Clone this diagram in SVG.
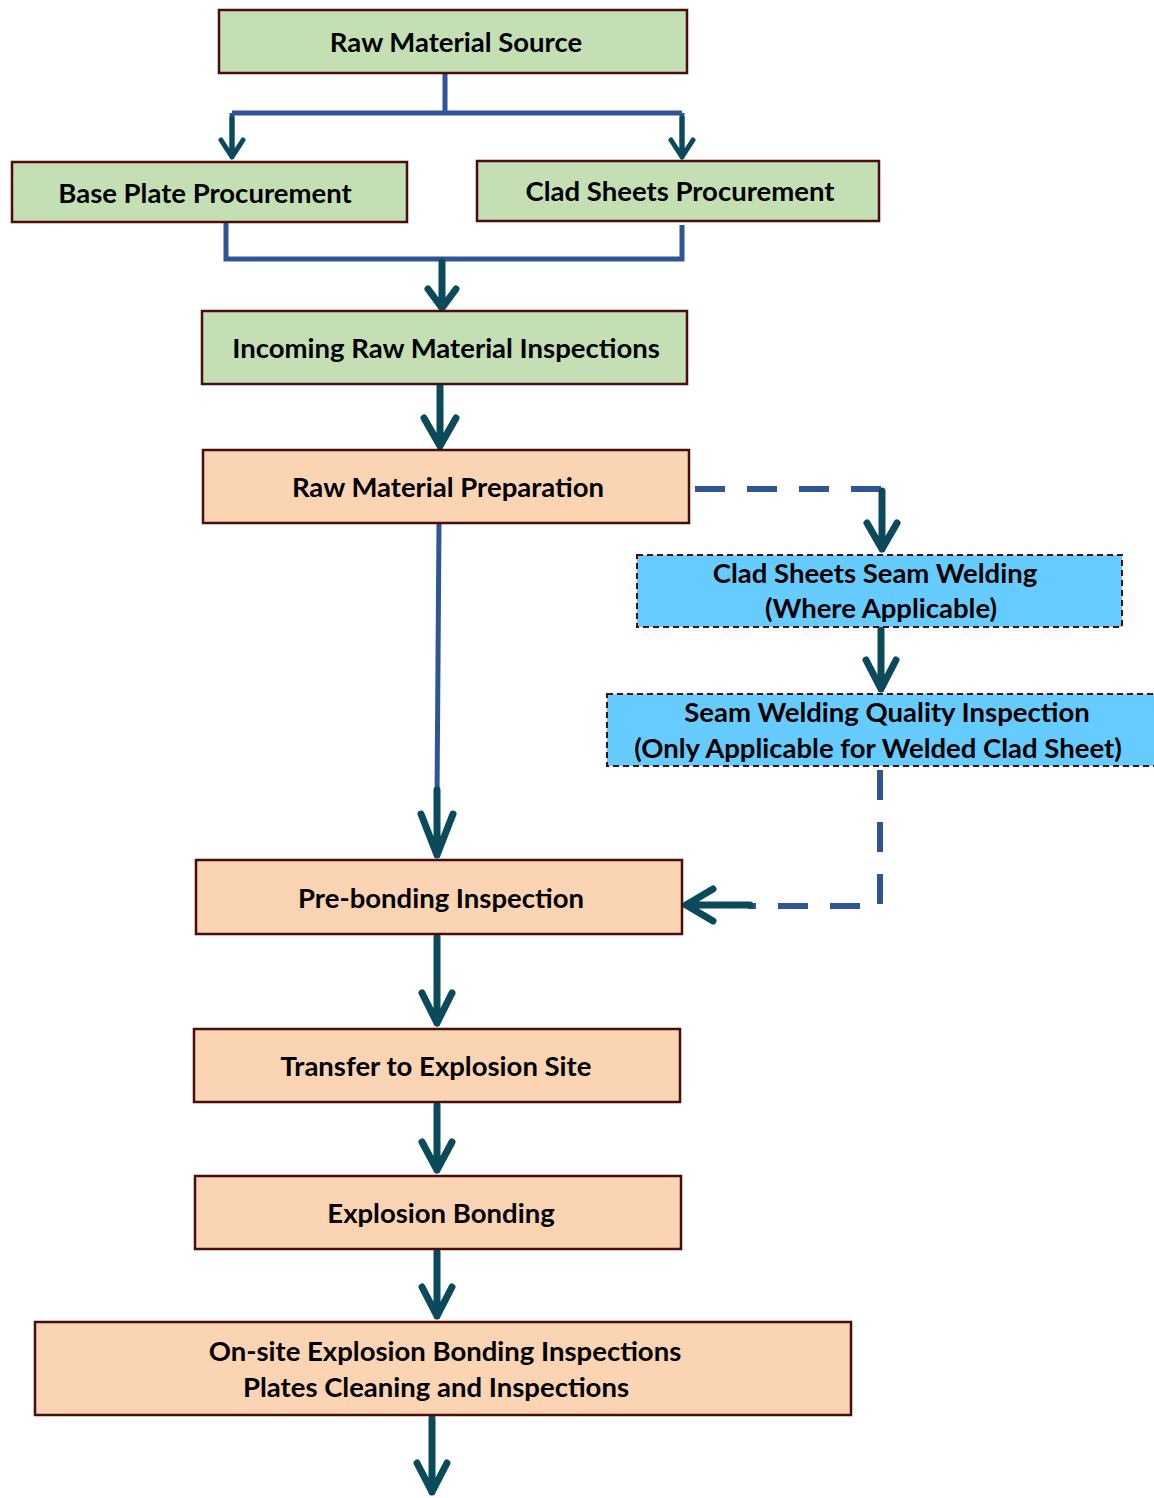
<svg xmlns="http://www.w3.org/2000/svg" width="1154" height="1498" viewBox="0 0 1154 1498">
<style>
  .box{stroke:#4a0d0d;stroke-width:2.5}
  .g{fill:#c4dfb4}
  .o{fill:#fbd4b4}
  .b{fill:#66ccff;stroke-dasharray:6 4;stroke-width:2}
  .t{font-family:Lato,"Liberation Sans",sans-serif;font-weight:bold;font-size:27.5px;fill:#000;text-anchor:middle}
  .ln{fill:none;stroke:#2f5597;stroke-width:5}
  .dl{fill:none;stroke:#2f5597;stroke-width:6;stroke-dasharray:30 22}
  .ah{fill:none;stroke:#0b4a5a;stroke-width:7;stroke-linecap:round;stroke-linejoin:round}
  .ahs{fill:none;stroke:#0b4a5a;stroke-width:5;stroke-linecap:round;stroke-linejoin:round}
</style>
<rect width="1154" height="1498" fill="#fff"/>
<g id="connectors">
  <path class="ln" d="M445 73 V113 M232 113 H682 M232 113 V150 M682 113 V150"/>
  <path class="ahs" d="M232 118 V157 M221 140 L232 157 L243 140"/>
  <path class="ahs" d="M682 118 V157 M671 140 L682 157 L693 140"/>
  <path class="ln" d="M226 222 V259 H682 V225"/>
  <path class="ah" d="M442 262 V308 M428 289 L442 308 L456 289"/>
  <path class="ah" d="M440 386 V446 M424 418 L440 446 L456 418"/>
  <path class="ln" d="M439 523 L437 800"/>
  <path class="ah" d="M437 790 V855 M421 814 L437 855 L453 814"/>
  <path class="dl" d="M695 489 H882 V515"/>
  <path class="ah" d="M882 491 V549 M867 523 L882 549 L897 523"/>
  <path class="ah" d="M881 629 V689 M866 660 L881 689 L896 660"/>
  <path class="dl" d="M880 770 V906 H748"/>
  <path class="ah" d="M750 905 H686 M713 889 L686 905 L713 921"/>
  <path class="ah" d="M437 937 V1023 M422 993 L437 1023 L452 993"/>
  <path class="ah" d="M437 1105 V1170 M422 1142 L437 1170 L452 1142"/>
  <path class="ah" d="M437 1252 V1316 M422 1287 L437 1316 L452 1287"/>
  <path class="ah" d="M432 1418 V1492 M417 1463 L432 1492 L447 1463"/>
</g>
<g id="n1"><rect class="box g" x="219" y="10" width="468" height="63"/><text class="t" x="456" y="52">Raw Material Source</text></g>
<g id="n2"><rect class="box g" x="12" y="162" width="395" height="60"/><text class="t" x="205" y="203">Base Plate Procurement</text></g>
<g id="n3"><rect class="box g" x="477" y="161" width="402" height="60"/><text class="t" x="680" y="201">Clad Sheets Procurement</text></g>
<g id="n4"><rect class="box g" x="202" y="311" width="485" height="73"/><text class="t" x="446" y="358">Incoming Raw Material Inspections</text></g>
<g id="n5"><rect class="box o" x="203" y="450" width="486" height="73"/><text class="t" x="448" y="497">Raw Material Preparation</text></g>
<g id="n6"><rect class="box b" x="637" y="555" width="485" height="72"/><text class="t" x="875" y="583">Clad Sheets Seam Welding</text><text class="t" x="881" y="618">(Where Applicable)</text></g>
<g id="n7"><rect class="box b" x="607" y="694" width="550" height="72"/><text class="t" x="887" y="722">Seam Welding Quality Inspection</text><text class="t" x="878" y="758">(Only Applicable for Welded Clad Sheet)</text></g>
<g id="n8"><rect class="box o" x="196" y="860" width="486" height="74"/><text class="t" x="441" y="908">Pre-bonding Inspection</text></g>
<g id="n9"><rect class="box o" x="194" y="1029" width="486" height="73"/><text class="t" x="436" y="1076">Transfer to Explosion Site</text></g>
<g id="n10"><rect class="box o" x="195" y="1176" width="486" height="73"/><text class="t" x="441" y="1223">Explosion Bonding</text></g>
<g id="n11"><rect class="box o" x="35" y="1322" width="816" height="93"/><text class="t" x="445" y="1361">On-site Explosion Bonding Inspections</text><text class="t" x="436" y="1397">Plates Cleaning and Inspections</text></g>
</svg>
